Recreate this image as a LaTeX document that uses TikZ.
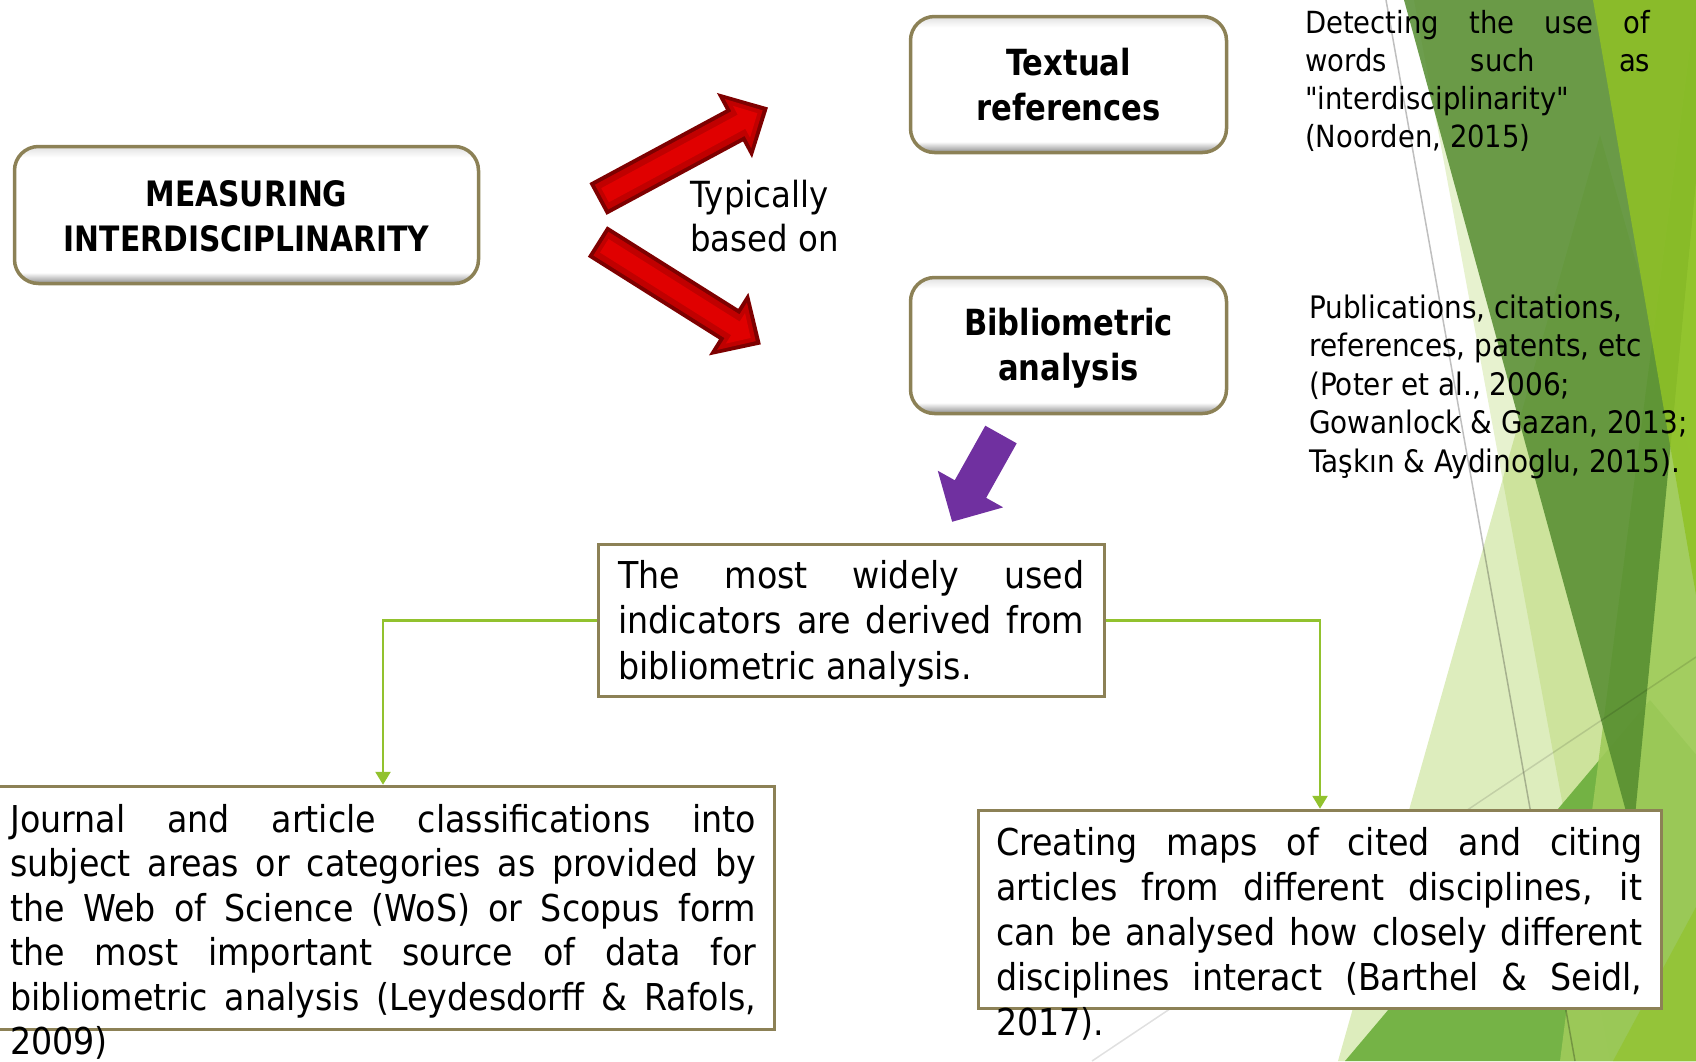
\documentclass[tikz,border=0pt]{standalone}
\usepackage{fontspec}
\newfontfamily\bodyf{DejaVu Sans}[FakeStretch=0.9]
\newfontfamily\hd{DejaVu Sans}[FakeStretch=0.85]
\usetikzlibrary{arrows.meta}
\definecolor{boxedge}{HTML}{8C8156}
\definecolor{connc}{HTML}{92C22E}
\definecolor{arrred}{HTML}{E00000}
\definecolor{arrmid}{HTML}{C00000}
\definecolor{arrdark}{HTML}{7E0000}
\definecolor{purp}{HTML}{7030A0}
\definecolor{gA}{HTML}{90C226}
\definecolor{gD}{HTML}{548C2F}
\definecolor{gM}{HTML}{6AAE3A}
\definecolor{gL}{HTML}{9FCB5A}
\pgfdeclareverticalshading{btnshade}{100bp}{color(0bp)=(black!45); color(25bp)=(black!45); color(29bp)=(white); color(71bp)=(white); color(75bp)=(black!12); color(100bp)=(black!12)}
\newcommand\jl[1]{\makebox[\linewidth][s]{#1}\\}
\newcommand\ls{\rule[-6pt]{0pt}{39pt}}
\newcommand\redarrowpath[2]{%
  \begin{scope}[shift={#1}, rotate=#2]
    \fill[arrdark] (0,-18) -- (155,-18) -- (155,-37) -- (193,0) -- (155,37) -- (155,18) -- (0,18) -- cycle;
    \fill[arrmid] (4,-14) -- (159,-14) -- (159,-28) -- (187,0) -- (159,28) -- (159,14) -- (4,14) -- cycle;
    \fill[arrred] (8,-8) -- (163,-8) -- (163,-18) -- (181,0) -- (163,18) -- (163,8) -- (8,8) -- cycle;
  \end{scope}}
\begin{document}
\begin{tikzpicture}[x=1pt,y=-1pt, font=\bodyf,
  rbox/.style={rounded corners=24pt, draw=boxedge, line width=3.5pt, shading=btnshade,
    inner sep=0pt, align=center, font=\hd\bfseries\fontsize{36}{45}\selectfont},
  sbox/.style={draw=boxedge, line width=3.5pt, fill=white, inner sep=0pt},
  txt/.style={inner sep=0pt, anchor=base west},
  conn/.style={draw=connc, line width=2.5pt, -{Triangle[width=15pt,length=13pt]}}
]
\useasboundingbox (0,0) rectangle (1696,1061);
% background facets
\fill[gA, opacity=0.22] (1414,0) -- (1696,0) -- (1696,1061) -- (1610,1061) -- cycle;
\fill[gA, opacity=0.30] (1338,1061) -- (1600,135) -- (1862,1061) -- cycle;
\fill[gM, opacity=0.9] (1345,1061) -- (1650,700) -- (1955,1061) -- cycle;
\fill[gL, opacity=0.9] (1696,0) -- (1696,1061) -- (1560,1061) -- cycle;
\fill[gD, opacity=0.85] (1404,0) -- (1696,0) -- (1696,181) -- (1633,837) -- cycle;
\fill[gA, opacity=0.85] (1593,0) -- (1696,0) -- (1696,595) -- cycle;
\fill[gA, opacity=0.6] (1613,1061) -- (1696,907) -- (1696,1061) -- cycle;
\draw[black, opacity=0.25, line width=1.5pt] (1386,0) -- (1575,1061);
\draw[black, opacity=0.12, line width=1.5pt] (1092,1061) -- (1696,657);

% rounded boxes
\node[rbox, minimum width=464pt, minimum height=137pt, font=\hd\bfseries\fontsize{35}{45}\selectfont] (meas) at (246.5,215) {\ls MEASURING\\\ls INTERDISCIPLINARITY};
\node[rbox, minimum width=316pt, minimum height=136pt] (textual) at (1068.5,84.5) {\ls Textual\\\ls references};
\node[rbox, minimum width=316pt, minimum height=136pt] (biblio) at (1068.5,345.5) {\ls Bibliometric\\\ls analysis};

% block arrows
\redarrowpath{(598,199)}{28.3}
\redarrowpath{(597.5,241.5)}{-32.2}
\begin{scope}[shift={(1001,434.5)}, rotate=-119.25]
  \fill[purp] (0,-18) -- (62.5,-18) -- (62.5,-37.5) -- (100,0) -- (62.5,37.5) -- (62.5,18) -- (0,18) -- cycle;
\end{scope}

\node[txt] (typ) at (690,207) {\parbox[t]{200pt}{\fontsize{36}{44}\selectfont Typically\\based on}};

% side notes
\node[txt] (det) at (1305,33) {\parbox[t]{345pt}{\fontsize{30.5}{38.3}\selectfont
  \jl{Detecting the use of}\jl{words such as}"interdisciplinarity"\\(Noorden, 2015)}};
\node[txt] (pub) at (1309,318) {\parbox[t]{390pt}{\fontsize{31}{38.5}\selectfont
  Publications, citations,\\references, patents, etc\\(Poter et al., 2006;\\Gowanlock \& Gazan, 2013;\\Taşkın \& Aydinoglu, 2015).}};

% rectangular boxes
\node[sbox, minimum width=506pt, minimum height=152pt] (mid) at (851.5,620.5) {};
\node[txt] (midt) at (618,588) {\parbox[t]{466pt}{\fontsize{37}{45.5}\selectfont
  \jl{The most widely used}\jl{indicators are derived from}bibliometric analysis.}};

\node[sbox, minimum width=783pt, minimum height=243pt] (bl) at (383,908) {};
\node[txt] (blt) at (10,832) {\parbox[t]{746pt}{\fontsize{37}{44.5}\selectfont
  \jl{Journal and article classifications into}\jl{subject areas or categories as provided by}\jl{the Web of Science (WoS) or Scopus form}\jl{the most important source of data for}\jl{bibliometric analysis (Leydesdorff \& Rafols,}2009)}};

\node[sbox, minimum width=683pt, minimum height=198pt] (br) at (1320,909.5) {};
\node[txt] (brt) at (996,855) {\parbox[t]{646pt}{\fontsize{37}{45}\selectfont
  \jl{Creating maps of cited and citing}\jl{articles from different disciplines, it}\jl{can be analysed how closely different}\jl{disciplines interact (Barthel \& Seidl,}2017).}};

% connectors
\draw[conn] (mid.west) -| (bl.north);
\draw[conn] (mid.east) -| (br.north);
\end{tikzpicture}
\end{document}
